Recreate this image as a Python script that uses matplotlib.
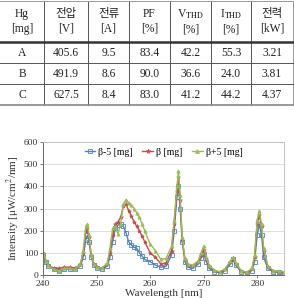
import matplotlib
matplotlib.use('Agg')
import matplotlib.pyplot as plt

plt.rcParams['font.family'] = ['Liberation Serif', 'Noto Sans CJK KR']
plt.rcParams['mathtext.fontset'] = 'stix'

# table data
headers = ['Hg\n[mg]', '전압\n[V]', '전류\n[A]', 'PF\n[%]', 'V$_{\\mathrm{THD}}$\n[%]', 'I$_{\\mathrm{THD}}$\n[%]', '전력\n[kW]']
row_names = ['A', 'B', 'C']
voltage = ['405.6', '491.9', '627.5']
current = ['9.5', '8.6', '8.4']
pf = ['83.4', '90.0', '83.0']
vthd = ['42.2', '36.6', '41.2']
ithd = ['55.3', '24.0', '44.2']
power = ['3.21', '3.81', '4.37']

# spectrum data
wavelength = [240, 240.5, 241, 242, 243, 244, 245, 246, 247, 247.5,
              248, 248.3, 248.6, 249, 249.5, 250, 251, 252, 252.5, 253,
              253.5, 254, 254.5, 255, 255.5, 256, 256.5, 257, 257.5, 258,
              258.5, 259, 260, 261, 262, 263, 264, 264.5, 265, 265.3,
              265.6, 266, 266.5, 267, 268, 269, 269.5, 270, 270.5, 271,
              272, 273, 274, 275, 275.5, 276, 277, 278, 279, 279.5,
              280, 280.4, 280.8, 281.2, 282, 283, 284, 285]
beta_m5 = [90, 60, 40, 25, 20, 25, 28, 25, 40, 80,
           160, 180, 150, 80, 45, 30, 28, 40, 80, 150,
           210, 225, 230, 220, 190, 150, 135, 125, 120, 100,
           85, 70, 60, 45, 35, 40, 90, 200, 350, 400,
           300, 150, 60, 35, 30, 50, 75, 95, 60, 30,
           15, 10, 20, 50, 70, 45, 15, 8, 20, 60,
           180, 230, 180, 80, 30, 15, 12, 10]
beta_0 = [100, 65, 45, 30, 30, 35, 35, 30, 50, 100,
          200, 210, 170, 90, 50, 35, 30, 50, 100, 180,
          230, 240, 260, 310, 320, 290, 265, 240, 220, 200,
          175, 150, 100, 80, 50, 55, 110, 230, 380, 440,
          340, 160, 70, 45, 40, 60, 90, 115, 70, 40,
          20, 12, 25, 60, 75, 50, 18, 10, 25, 80,
          230, 270, 220, 110, 35, 18, 14, 12]
beta_p5 = [105, 65, 45, 25, 20, 30, 30, 25, 50, 110,
           220, 230, 180, 90, 50, 35, 30, 55, 120, 210,
           220, 185, 230, 320, 340, 325, 315, 300, 280, 260,
           230, 200, 140, 110, 70, 75, 130, 250, 400, 470,
           360, 170, 75, 50, 45, 65, 100, 130, 80, 45,
           22, 15, 28, 65, 80, 55, 20, 12, 30, 90,
           250, 290, 230, 120, 40, 20, 16, 15]

fig = plt.figure(figsize=(2.94, 2.98), dpi=100)

# ---- table drawn by hand ----
tab = fig.add_axes([0, 1 - 106 / 298, 1, 106 / 298])
tab.set_xlim(0, 294)
tab.set_ylim(106, 0)
tab.axis('off')
col_edges = [0, 44, 88, 129, 170, 211, 251, 293]
row_edges = [1, 42, 63, 84, 105]
cols = [row_names, voltage, current, pf, vthd, ithd, power]
for j in range(len(headers)):
    cx = (col_edges[j] + col_edges[j + 1]) / 2
    tab.text(cx, (row_edges[0] + row_edges[1]) / 2, headers[j], ha='center', va='center',
             fontsize=8.3, linespacing=1.3, color='#222222')
    for i in range(3):
        tab.text(cx, (row_edges[i + 1] + row_edges[i + 2]) / 2 + 0.5, cols[j][i], ha='center', va='center',
                 fontsize=8.3, color='#222222')
for x in col_edges[1:-1]:
    tab.plot([x, x], [row_edges[0], row_edges[-1]], color='#555555', lw=0.7)
tab.plot([col_edges[-1], col_edges[-1]], [row_edges[0], row_edges[-1]], color='#999999', lw=0.7)
tab.plot([0, 294], [row_edges[0], row_edges[0]], color='#999999', lw=0.7)
tab.plot([0, 294], [row_edges[1], row_edges[1]], color='#333333', lw=1.8)
for y in row_edges[2:-1]:
    tab.plot([0, 294], [y, y], color='#555555', lw=0.7)
tab.plot([0, 294], [row_edges[-1], row_edges[-1]], color='#888888', lw=1.2)

# ---- spectrum chart ----
ax = fig.add_axes([43 / 294, 23 / 298, 241 / 294, 133 / 298])
ax.plot(wavelength, beta_m5, color='#4F81BD', marker='s', ms=2.4, mfc='none', mew=0.6, lw=1.0, label='β-5 [mg]')
ax.plot(wavelength, beta_0, color='#C0504D', marker='*', ms=2.8, mew=0.5, lw=1.0, label='β [mg]')
ax.plot(wavelength, beta_p5, color='#9BBB59', marker='^', ms=2.4, mew=0.5, lw=1.0, label='β+5 [mg]')
ax.set_xlim(240, 285)
ax.set_ylim(0, 600)
ax.set_xticks([240, 250, 260, 270, 280])
ax.set_yticks(range(0, 601, 100))
ax.tick_params(labelsize=6.8, length=2, width=0.6, pad=1.5, color='#666666', labelcolor='#333333')
ax.grid(axis='y', color='#d9d9d9', lw=0.6)
ax.set_axisbelow(True)
for s in ['top', 'right']:
    ax.spines[s].set_color('#bbbbbb')
    ax.spines[s].set_linewidth(0.6)
for s in ['left', 'bottom']:
    ax.spines[s].set_color('#666666')
    ax.spines[s].set_linewidth(0.7)
ax.set_xlabel('Wavelength [nm]', fontsize=8, labelpad=0.5, color='#333333')
ax.set_ylabel('Intensity [μW/cm$^2$/nm]', fontsize=8, labelpad=1, color='#333333')
ax.legend(loc='upper center', ncol=3, frameon=False, fontsize=7, handlelength=1.1,
          handletextpad=0.3, columnspacing=1.0, borderaxespad=0.2, markerscale=1.2)

fig.savefig('out.png', dpi=100)
